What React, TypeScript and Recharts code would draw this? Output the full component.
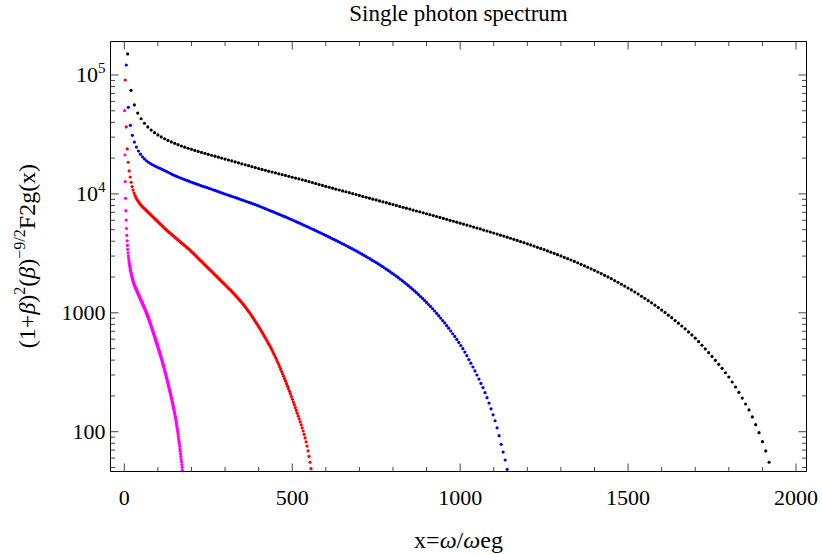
import { ScatterChart, Scatter, XAxis, YAxis } from 'recharts';

// values are log10 of the plotted quantity, sample k sits at x = k * step
const blackStep = 10;
const blackLog = [
  5.177, 4.871, 4.748, 4.680, 4.632, 4.594, 4.563, 4.537, 4.515, 4.496,
  4.479, 4.464, 4.450, 4.437, 4.425, 4.414, 4.403, 4.393, 4.384, 4.375,
  4.366, 4.357, 4.349, 4.341, 4.333, 4.325, 4.317, 4.309, 4.301, 4.293,
  4.285, 4.277, 4.269, 4.261, 4.253, 4.245, 4.237, 4.229, 4.221, 4.213,
  4.206, 4.199, 4.191, 4.184, 4.177, 4.169, 4.162, 4.155, 4.148, 4.140,
  4.133, 4.126, 4.118, 4.111, 4.103, 4.095, 4.087, 4.079, 4.071, 4.063,
  4.056, 4.048, 4.040, 4.033, 4.025, 4.018, 4.010, 4.002, 3.995, 3.987,
  3.979, 3.972, 3.964, 3.956, 3.949, 3.941, 3.933, 3.926, 3.918, 3.910,
  3.903, 3.895, 3.887, 3.880, 3.872, 3.864, 3.856, 3.849, 3.841, 3.833,
  3.825, 3.818, 3.810, 3.802, 3.794, 3.786, 3.778, 3.770, 3.762, 3.754,
  3.746, 3.738, 3.730, 3.721, 3.713, 3.705, 3.696, 3.688, 3.679, 3.671,
  3.662, 3.653, 3.645, 3.636, 3.627, 3.618, 3.609, 3.599, 3.590, 3.580,
  3.571, 3.561, 3.551, 3.541, 3.531, 3.520, 3.510, 3.499, 3.489, 3.478,
  3.466, 3.455, 3.444, 3.432, 3.420, 3.408, 3.395, 3.383, 3.370, 3.357,
  3.343, 3.330, 3.315, 3.302, 3.287, 3.271, 3.257, 3.240, 3.225, 3.208,
  3.192, 3.175, 3.158, 3.139, 3.122, 3.102, 3.084, 3.064, 3.044, 3.023,
  3.003, 2.980, 2.959, 2.935, 2.913, 2.889, 2.865, 2.839, 2.814, 2.787,
  2.758, 2.727, 2.696, 2.665, 2.633, 2.600, 2.567, 2.533, 2.496, 2.460,
  2.418, 2.376, 2.331, 2.283, 2.233, 2.183, 2.124, 2.059, 1.992, 1.916,
  1.838, 1.743,
];

const blueStep = 6;
const blueLog = [
  5.084, 4.728, 4.577, 4.493, 4.436, 4.394, 4.361, 4.334, 4.312, 4.294,
  4.279, 4.266, 4.255, 4.245, 4.236, 4.228, 4.220, 4.212, 4.204, 4.196,
  4.188, 4.180, 4.171, 4.162, 4.154, 4.147, 4.140, 4.133, 4.127, 4.120,
  4.114, 4.107, 4.100, 4.094, 4.088, 4.082, 4.076, 4.070, 4.064, 4.059,
  4.053, 4.047, 4.041, 4.035, 4.029, 4.023, 4.017, 4.011, 4.005, 3.999,
  3.993, 3.987, 3.981, 3.976, 3.970, 3.964, 3.958, 3.952, 3.946, 3.940,
  3.934, 3.928, 3.922, 3.916, 3.910, 3.904, 3.897, 3.890, 3.883, 3.876,
  3.869, 3.862, 3.855, 3.848, 3.841, 3.834, 3.827, 3.820, 3.813, 3.806,
  3.799, 3.791, 3.784, 3.776, 3.769, 3.761, 3.754, 3.746, 3.738, 3.730,
  3.723, 3.715, 3.707, 3.699, 3.691, 3.683, 3.675, 3.667, 3.659, 3.651,
  3.643, 3.634, 3.625, 3.617, 3.609, 3.600, 3.592, 3.583, 3.575, 3.566,
  3.557, 3.548, 3.539, 3.530, 3.521, 3.512, 3.502, 3.493, 3.483, 3.473,
  3.463, 3.453, 3.443, 3.433, 3.422, 3.411, 3.401, 3.390, 3.379, 3.367,
  3.356, 3.344, 3.332, 3.320, 3.308, 3.295, 3.282, 3.269, 3.256, 3.242,
  3.228, 3.214, 3.199, 3.184, 3.169, 3.153, 3.137, 3.121, 3.104, 3.087,
  3.070, 3.052, 3.034, 3.015, 2.996, 2.976, 2.956, 2.935, 2.915, 2.892,
  2.871, 2.847, 2.824, 2.801, 2.776, 2.751, 2.725, 2.698, 2.670, 2.639,
  2.607, 2.576, 2.544, 2.511, 2.477, 2.443, 2.406, 2.370, 2.328, 2.286,
  2.241, 2.192, 2.142, 2.092, 2.033, 1.967, 1.894, 1.829, 1.762, 1.684,
];

const redStep = 2.91;
const redLog = [
  4.958, 4.563, 4.378, 4.266, 4.193, 4.142, 4.098, 4.061, 4.032, 4.007,
  3.986, 3.968, 3.953, 3.940, 3.928, 3.917, 3.907, 3.898, 3.889, 3.881,
  3.873, 3.865, 3.857, 3.849, 3.841, 3.833, 3.825, 3.817, 3.809, 3.801,
  3.793, 3.785, 3.777, 3.769, 3.761, 3.753, 3.745, 3.737, 3.729, 3.721,
  3.713, 3.705, 3.697, 3.690, 3.683, 3.676, 3.669, 3.662, 3.655, 3.648,
  3.641, 3.634, 3.627, 3.620, 3.613, 3.606, 3.599, 3.592, 3.585, 3.578,
  3.571, 3.564, 3.557, 3.550, 3.543, 3.536, 3.529, 3.521, 3.513, 3.505,
  3.497, 3.489, 3.481, 3.473, 3.464, 3.456, 3.448, 3.440, 3.432, 3.424,
  3.415, 3.407, 3.399, 3.391, 3.383, 3.375, 3.367, 3.359, 3.351, 3.343,
  3.334, 3.326, 3.318, 3.310, 3.302, 3.294, 3.286, 3.277, 3.269, 3.261,
  3.253, 3.245, 3.237, 3.229, 3.220, 3.212, 3.204, 3.196, 3.188, 3.179,
  3.171, 3.162, 3.153, 3.144, 3.135, 3.126, 3.117, 3.108, 3.098, 3.088,
  3.078, 3.068, 3.058, 3.047, 3.036, 3.025, 3.014, 3.003, 2.991, 2.979,
  2.967, 2.955, 2.942, 2.929, 2.916, 2.903, 2.890, 2.877, 2.863, 2.850,
  2.836, 2.822, 2.808, 2.794, 2.779, 2.765, 2.750, 2.735, 2.720, 2.705,
  2.689, 2.672, 2.655, 2.638, 2.620, 2.602, 2.584, 2.565, 2.546, 2.526,
  2.506, 2.486, 2.466, 2.446, 2.425, 2.404, 2.383, 2.362, 2.340, 2.318,
  2.296, 2.273, 2.250, 2.227, 2.203, 2.179, 2.155, 2.131, 2.107, 2.083,
  2.058, 2.033, 2.006, 1.978, 1.948, 1.915, 1.879, 1.838, 1.792, 1.743,
  1.689,
];

const magentaStep = 0.93;
const magentaLog = [
  4.700, 4.327, 4.103, 3.963, 3.859, 3.780, 3.709, 3.651, 3.605, 3.567,
  3.534, 3.505, 3.480, 3.457, 3.436, 3.417, 3.400, 3.385, 3.371, 3.358,
  3.345, 3.333, 3.321, 3.309, 3.298, 3.287, 3.277, 3.267, 3.258, 3.250,
  3.242, 3.235, 3.229, 3.223, 3.217, 3.211, 3.205, 3.199, 3.193, 3.187,
  3.181, 3.175, 3.169, 3.163, 3.157, 3.151, 3.145, 3.139, 3.133, 3.127,
  3.121, 3.115, 3.109, 3.103, 3.097, 3.091, 3.085, 3.079, 3.073, 3.067,
  3.061, 3.055, 3.049, 3.043, 3.037, 3.031, 3.025, 3.019, 3.013, 3.006,
  3.000, 2.993, 2.986, 2.979, 2.972, 2.965, 2.958, 2.951, 2.944, 2.937,
  2.929, 2.921, 2.913, 2.905, 2.897, 2.889, 2.881, 2.873, 2.865, 2.857,
  2.849, 2.841, 2.833, 2.825, 2.817, 2.809, 2.801, 2.793, 2.785, 2.777,
  2.769, 2.761, 2.752, 2.744, 2.736, 2.727, 2.719, 2.710, 2.702, 2.693,
  2.685, 2.676, 2.668, 2.659, 2.650, 2.641, 2.632, 2.623, 2.614, 2.605,
  2.596, 2.587, 2.578, 2.568, 2.559, 2.549, 2.540, 2.530, 2.520, 2.510,
  2.500, 2.490, 2.479, 2.469, 2.458, 2.448, 2.437, 2.426, 2.416, 2.405,
  2.394, 2.383, 2.372, 2.361, 2.350, 2.339, 2.328, 2.317, 2.305, 2.294,
  2.282, 2.271, 2.259, 2.248, 2.236, 2.223, 2.210, 2.197, 2.184, 2.171,
  2.158, 2.145, 2.131, 2.116, 2.100, 2.084, 2.068, 2.052, 2.036, 2.019,
  2.000, 1.980, 1.960, 1.940, 1.920, 1.900, 1.880, 1.858, 1.836, 1.814,
  1.792, 1.770, 1.748, 1.724, 1.700, 1.676,
];

const xMajor = [0, 500, 1000, 1500, 2000];
const xMinor = [100, 200, 300, 400, 600, 700, 800, 900, 1100, 1200, 1300, 1400, 1600, 1700, 1800, 1900];
const yMajor = [100, 1000, 10000, 100000];
const yMinor = [
  50, 60, 70, 80, 90,
  200, 300, 400, 500, 600, 700, 800, 900,
  2000, 3000, 4000, 5000, 6000, 7000, 8000, 9000,
  20000, 30000, 40000, 50000, 60000, 70000, 80000, 90000,
];
// base and exponent for the left tick labels
const yLabels: Record<number, [string, string]> = {
  100: ['100', ''],
  1000: ['1000', ''],
  10000: ['10', '4'],
  100000: ['10', '5'],
};

const xDomain = [-41.1, 2031.3];
const yDomain = [46.27, 191300];

const SERIF = '"Liberation Serif", "Times New Roman", Times, serif';
const TICK = '#444';
const MAJOR_LEN = 8;
const MINOR_LEN = 4.5;

const toPoints = (logs: number[], step: number) =>
  logs.map((v, i) => ({ x: (i + 1) * step, y: Math.pow(10, v) }));

const series = [
  { key: 'magenta', color: '#ff00ff', data: toPoints(magentaLog, magentaStep) },
  { key: 'red', color: '#ff0000', data: toPoints(redLog, redStep) },
  { key: 'blue', color: '#0000ff', data: toPoints(blueLog, blueStep) },
  { key: 'black', color: '#000000', data: toPoints(blackLog, blackStep) },
];

function BottomTick(props: any) {
  const { x, y, payload } = props;
  const major = xMajor.includes(payload.value);
  return (
    <g>
      <line x1={x} x2={x} y1={y} y2={y - (major ? MAJOR_LEN : MINOR_LEN)} stroke={TICK} />
      {major && (
        <text x={x} y={y + 33} textAnchor="middle" fontFamily={SERIF} fontSize={22} fill="#000">
          {payload.value}
        </text>
      )}
    </g>
  );
}

function TopTick(props: any) {
  const { x, y, payload } = props;
  const major = xMajor.includes(payload.value);
  return <line x1={x} x2={x} y1={y} y2={y + (major ? MAJOR_LEN : MINOR_LEN)} stroke={TICK} />;
}

function LeftTick(props: any) {
  const { x, y, payload } = props;
  const label = yLabels[payload.value];
  return (
    <g>
      <line x1={x} x2={x + (label ? MAJOR_LEN : MINOR_LEN)} y1={y} y2={y} stroke={TICK} />
      {label && (
        <text x={x - 5} y={y + 7} textAnchor="end" fontFamily={SERIF} fontSize={22} fill="#000">
          {label[0]}
          {label[1] && (
            <tspan dy={-9} fontSize={15}>
              {label[1]}
            </tspan>
          )}
        </text>
      )}
    </g>
  );
}

function RightTick(props: any) {
  const { x, y, payload } = props;
  const major = yMajor.includes(payload.value);
  return <line x1={x} x2={x - (major ? MAJOR_LEN : MINOR_LEN)} y1={y} y2={y} stroke={TICK} />;
}

function dot(color: string) {
  return (props: any) => <circle cx={props.cx} cy={props.cy} r={1.6} fill={color} />;
}

export default function App() {
  const xTicks = [...xMajor, ...xMinor].sort((a, b) => a - b);
  const yTicks = [...yMajor, ...yMinor].sort((a, b) => a - b);

  return (
    <div style={{ position: 'absolute', left: 0, top: 0, width: 822, height: 554, background: '#fff' }}>
      <ScatterChart width={822} height={554} margin={{ top: 40.5, right: 14.5, bottom: 42.5, left: 50.5 }}>
        <XAxis
          xAxisId="bottom"
          type="number"
          dataKey="x"
          domain={xDomain}
          allowDataOverflow
          ticks={xTicks}
          interval={0}
          tick={<BottomTick />}
          tickLine={false}
          tickSize={0}
          tickMargin={0}
          height={40}
          axisLine={{ stroke: '#000' }}
        />
        <XAxis
          xAxisId="top"
          orientation="top"
          type="number"
          dataKey="x"
          domain={xDomain}
          allowDataOverflow
          ticks={xTicks}
          interval={0}
          tick={<TopTick />}
          tickLine={false}
          tickSize={0}
          tickMargin={0}
          height={1}
          axisLine={{ stroke: '#000' }}
        />
        <YAxis
          yAxisId="left"
          type="number"
          dataKey="y"
          scale="log"
          domain={yDomain}
          allowDataOverflow
          ticks={yTicks}
          interval={0}
          tick={<LeftTick />}
          tickLine={false}
          tickSize={0}
          tickMargin={0}
          width={60}
          axisLine={{ stroke: '#000' }}
        />
        <YAxis
          yAxisId="right"
          orientation="right"
          type="number"
          dataKey="y"
          scale="log"
          domain={yDomain}
          allowDataOverflow
          ticks={yTicks}
          interval={0}
          tick={<RightTick />}
          tickLine={false}
          tickSize={0}
          tickMargin={0}
          width={1}
          axisLine={{ stroke: '#000' }}
        />
        {series.map((s) => (
          <Scatter
            key={s.key}
            xAxisId="bottom"
            yAxisId="left"
            data={s.data}
            fill={s.color}
            shape={dot(s.color)}
            isAnimationActive={false}
          />
        ))}
      </ScatterChart>
      <svg width={822} height={554} style={{ position: 'absolute', left: 0, top: 0, pointerEvents: 'none' }}>
        <text x={458.5} y={21} textAnchor="middle" fontFamily={SERIF} fontSize={23} fill="#000">
          Single photon spectrum
        </text>
        <text x={458.5} y={548} textAnchor="middle" fontFamily={SERIF} fontSize={24} fill="#000">
          x=<tspan fontStyle="italic">ω</tspan>/<tspan fontStyle="italic">ω</tspan>eg
        </text>
        <text
          transform="translate(35,256) rotate(-90)"
          textAnchor="middle"
          fontFamily={SERIF}
          fontSize={24}
          fill="#000"
        >
          (1+<tspan fontStyle="italic">β</tspan>)
          <tspan dy={-10} fontSize={16}>2</tspan>
          <tspan dy={10}>(</tspan>
          <tspan fontStyle="italic">β</tspan>)
          <tspan dy={-10} fontSize={16}>−9/2</tspan>
          <tspan dy={10}>F2g(x)</tspan>
        </text>
      </svg>
    </div>
  );
}
